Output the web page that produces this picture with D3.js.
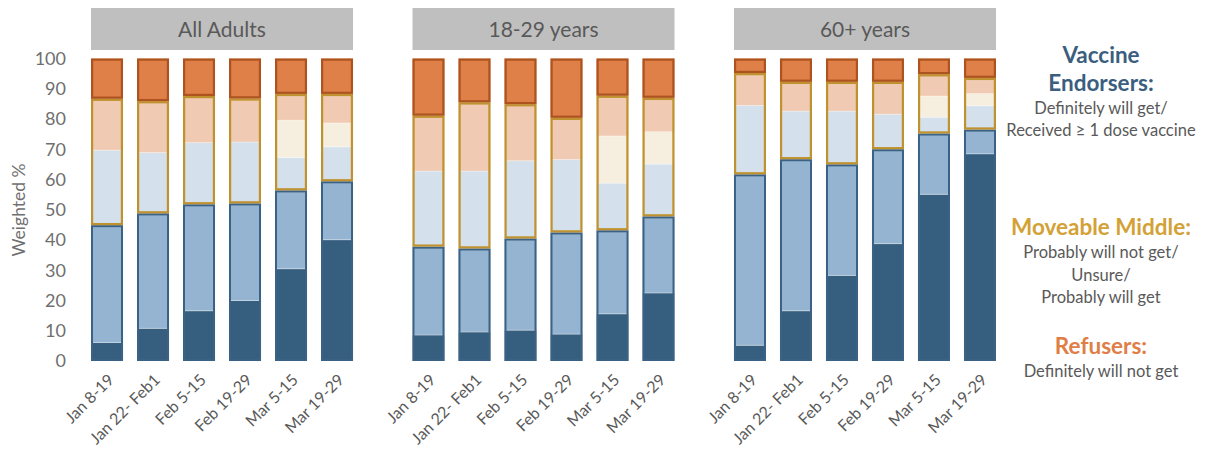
<!DOCTYPE html>
<html>
<head>
<meta charset="utf-8">
<script src="https://cdn.jsdelivr.net/npm/d3@7"></script>
<style>
  body { margin: 0; background: #fff; }
  svg { display: block; font-family: Lato, "Open Sans", sans-serif; }
</style>
</head>
<body>
<svg id="chart" width="1213" height="451"></svg>
<script>
// Survey waves shown on every panel
const categories = ["Jan 8-19", "Jan 22- Feb1", "Feb 5-15", "Feb 19-29", "Mar 5-15", "Mar 19-29"];
const panels = ["All Adults", "18-29 years", "60+ years"];
const yTicks = [0, 10, 20, 30, 40, 50, 60, 70, 80, 90, 100];

// Weighted % per response, one array per panel (bottom to top of each bar)
const received = {
  "All Adults":  [6.1, 10.8, 16.6, 20.0, 30.5, 40.1],
  "18-29 years": [8.6, 9.6, 10.2, 8.9, 15.6, 22.5],
  "60+ years":   [5.2, 16.6, 28.3, 38.8, 55.1, 68.5]
};
const definitely = {
  "All Adults":  [38.8, 38.0, 35.2, 32.1, 25.9, 19.3],
  "18-29 years": [29.2, 27.6, 30.3, 33.6, 27.6, 25.3],
  "60+ years":   [56.5, 50.1, 36.7, 31.2, 20.1, 8.0]
};
const probably = {
  "All Adults":  [24.8, 20.1, 20.4, 20.3, 10.9, 11.4],
  "18-29 years": [25.0, 25.6, 25.7, 24.1, 15.6, 17.3],
  "60+ years":   [22.8, 15.9, 17.6, 11.6, 5.4, 7.9]
};
const unsure = {
  "All Adults":  [0, 0, 0, 0, 12.3, 7.9],
  "18-29 years": [0, 0, 0, 0, 15.6, 10.7],
  "60+ years":   [0, 0, 0, 0, 7.0, 4.0]
};
const probablyNot = {
  "All Adults":  [17.0, 17.0, 15.4, 14.4, 8.7, 9.6],
  "18-29 years": [18.3, 22.7, 18.7, 13.8, 13.3, 11.2],
  "60+ years":   [10.7, 9.7, 9.7, 10.7, 7.2, 5.2]
};
const definitelyNot = {
  "All Adults":  [13.3, 14.1, 12.4, 13.2, 11.7, 11.7],
  "18-29 years": [18.9, 14.5, 15.1, 19.6, 12.3, 13.0],
  "60+ years":   [4.8, 7.7, 7.7, 7.7, 5.2, 6.4]
};

const seriesDefs = [
  { key: "received",      values: received,      color: "#365e7f" },
  { key: "definitely",    values: definitely,    color: "#95b4d1" },
  { key: "probably",      values: probably,      color: "#d4e1ec" },
  { key: "unsure",        values: unsure,        color: "#f6efdf" },
  { key: "probablyNot",   values: probablyNot,   color: "#f0cab2" },
  { key: "definitelyNot", values: definitelyNot, color: "#df8049" }
];
// Respondent groups outlined around their segments
const groups = [
  { name: "endorsers", keys: ["received", "definitely"], stroke: "#3b6284", width: 2 },
  { name: "middle",    keys: ["probably", "unsure", "probablyNot"], stroke: "#c0922f", width: 2.2 },
  { name: "refusers",  keys: ["definitelyNot"], stroke: "#ad531f", width: 2.2 }
];

const svg = d3.select("#chart");
const textGray = "#595959";

const y = d3.scaleLinear().domain([0, 100]).range([361, 58.5]);
const xPanel = d3.scaleBand().domain(panels).range([91, 996]).paddingInner(0.185).paddingOuter(0);
const xBar = d3.scaleBand().domain(categories).range([0, xPanel.bandwidth()]).paddingInner(0.304).paddingOuter(0);

// Y axis: labels only
const yAxis = d3.axisLeft(y).tickValues(yTicks).tickSize(0).tickPadding(0);
const yG = svg.append("g").attr("transform", "translate(66,0)").call(yAxis);
yG.select(".domain").remove();
yG.selectAll("text").attr("fill", "#6f6f6f").style("font-size", "18px").style("font-family", "Lato, sans-serif");

svg.append("text")
  .attr("transform", "translate(19,210) rotate(-90)")
  .attr("text-anchor", "middle")
  .attr("dy", "0.35em")
  .attr("fill", "#6f6f6f")
  .style("font-size", "17.5px")
  .text("Weighted %");

const keys = seriesDefs.map(d => d.key);

panels.forEach(panel => {
  const g = svg.append("g").attr("transform", `translate(${xPanel(panel)},0)`);

  // Panel header
  g.append("rect")
    .attr("x", 0).attr("y", 8)
    .attr("width", xPanel.bandwidth()).attr("height", 42)
    .attr("fill", "#bfbfbf");
  g.append("text")
    .attr("x", xPanel.bandwidth() / 2).attr("y", 30)
    .attr("dy", "0.35em")
    .attr("text-anchor", "middle")
    .attr("fill", textGray)
    .style("font-size", "21px")
    .text(panel);

  // Rows for stacking
  const rows = categories.map((c, i) => {
    const r = { category: c };
    seriesDefs.forEach(s => { r[s.key] = s.values[panel][i]; });
    return r;
  });
  const stacked = d3.stack().keys(keys)(rows);

  stacked.forEach((layer, li) => {
    g.append("g").selectAll("rect")
      .data(layer)
      .join("rect")
      .attr("x", d => xBar(d.data.category))
      .attr("width", xBar.bandwidth())
      .attr("y", d => y(d[1]))
      .attr("height", d => Math.max(0, y(d[0]) - y(d[1])))
      .attr("fill", seriesDefs[li].color)
      .attr("stroke", "rgba(255,255,255,0.3)")
      .attr("stroke-width", d => (d[1] - d[0]) > 0 ? 1 : 0);
  });

  // Group outlines
  groups.forEach(grp => {
    const first = keys.indexOf(grp.keys[0]);
    const last = keys.indexOf(grp.keys[grp.keys.length - 1]);
    g.append("g").selectAll("rect")
      .data(rows.map((r, i) => ({
        category: r.category,
        lo: stacked[first][i][0],
        hi: stacked[last][i][1]
      })))
      .join("rect")
      .attr("x", d => xBar(d.category) + grp.width / 2)
      .attr("width", xBar.bandwidth() - grp.width)
      .attr("y", d => y(d.hi) + grp.width / 2)
      .attr("height", d => Math.max(0, y(d.lo) - y(d.hi) - grp.width))
      .attr("fill", "none")
      .attr("stroke", grp.stroke)
      .attr("stroke-width", grp.width);
  });

  // Rotated wave labels
  g.append("g").selectAll("text")
    .data(categories)
    .join("text")
    .attr("transform", d => `translate(${xBar(d) + xBar.bandwidth() / 2 + 4},377) rotate(-45)`)
    .attr("text-anchor", "end")
    .attr("dy", "0.35em")
    .attr("fill", textGray)
    .style("font-size", "16px")
    .text(d => d);
});

// Legend on the right
const legend = [
  { text: "Vaccine", y: 55, color: "#3b5e7f", bold: true },
  { text: "Endorsers:", y: 83, color: "#3b5e7f", bold: true },
  { text: "Definitely will get/", y: 108, color: textGray },
  { text: "Received \u2265 1 dose vaccine", y: 130, color: textGray },
  { text: "Moveable Middle:", y: 227, color: "#d3a136", bold: true },
  { text: "Probably will not get/", y: 252, color: textGray },
  { text: "Unsure/", y: 275, color: textGray },
  { text: "Probably will get", y: 297, color: textGray },
  { text: "Refusers:", y: 346, color: "#e07e48", bold: true },
  { text: "Definitely will not get", y: 371, color: textGray }
];
svg.append("g").selectAll("text")
  .data(legend)
  .join("text")
  .attr("x", 1101)
  .attr("y", d => d.y)
  .attr("dy", "0.35em")
  .attr("text-anchor", "middle")
  .attr("fill", d => d.color)
  .style("font-size", d => d.bold ? "22.5px" : "16.5px")
  .style("font-weight", d => d.bold ? "bold" : "normal")
  .text(d => d.text);
</script>
</body>
</html>
